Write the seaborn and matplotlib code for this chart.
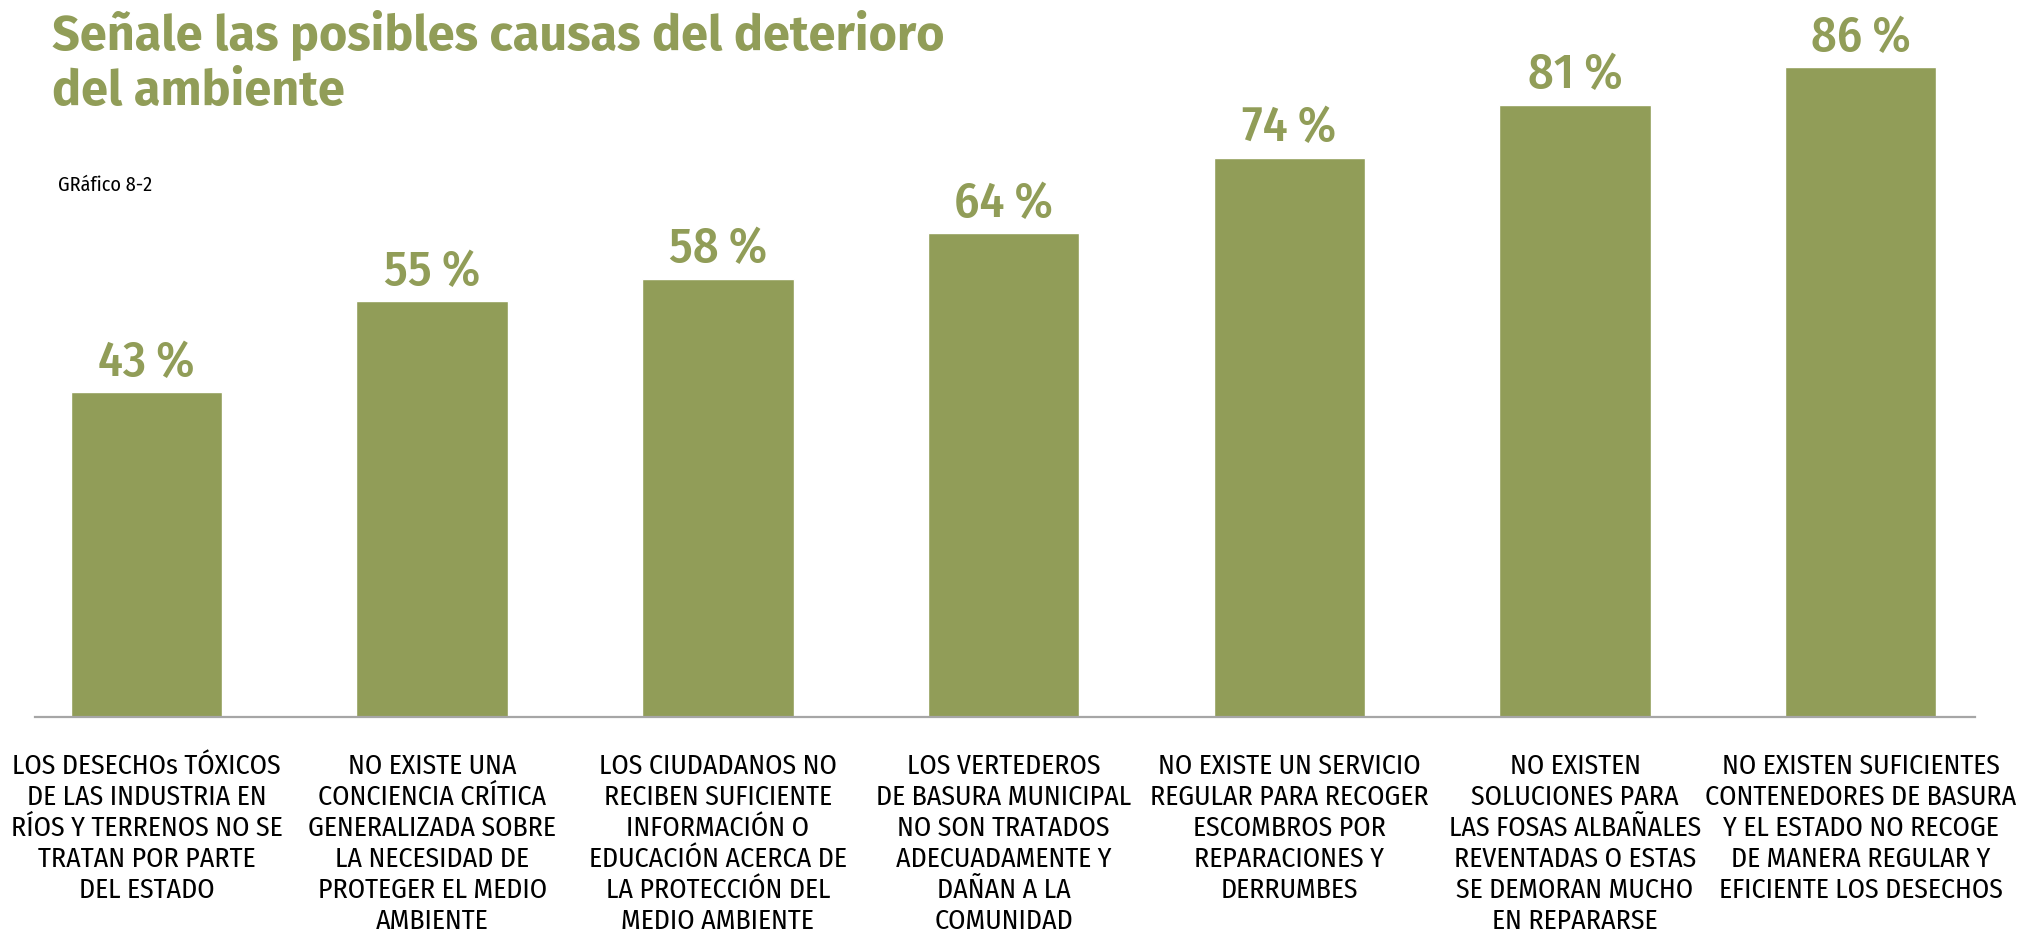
import matplotlib
matplotlib.use("Agg")
import matplotlib.pyplot as plt
import seaborn as sns
import pandas as pd
from matplotlib import font_manager

# data
causes = [
    "LOS DESECHOs TÓXICOS\nDE LAS INDUSTRIA EN\nRÍOS Y TERRENOS NO SE\nTRATAN POR PARTE\nDEL ESTADO",
    "NO EXISTE UNA\nCONCIENCIA CRÍTICA\nGENERALIZADA SOBRE\nLA NECESIDAD DE\nPROTEGER EL MEDIO\nAMBIENTE",
    "LOS CIUDADANOS NO\nRECIBEN SUFICIENTE\nINFORMACIÓN O\nEDUCACIÓN ACERCA DE\nLA PROTECCIÓN DEL\nMEDIO AMBIENTE",
    "LOS VERTEDEROS\nDE BASURA MUNICIPAL\nNO SON TRATADOS\nADECUADAMENTE Y\nDAÑAN A LA\nCOMUNIDAD",
    "NO EXISTE UN SERVICIO\nREGULAR PARA RECOGER\nESCOMBROS POR\nREPARACIONES Y\nDERRUMBES",
    "NO EXISTEN\nSOLUCIONES PARA\nLAS FOSAS ALBAÑALES\nREVENTADAS O ESTAS\nSE DEMORAN MUCHO\nEN REPARARSE",
    "NO EXISTEN SUFICIENTES\nCONTENEDORES DE BASURA\nY EL ESTADO NO RECOGE\nDE MANERA REGULAR Y\nEFICIENTE LOS DESECHOS",
]
percent = [43, 55, 58, 64, 74, 81, 86]

title = "Señale las posibles causas del deterioro\ndel ambiente"
subtitle = "GRáfico 8-2"

green = "#919d58"

sns.set_style("white")

# pick a condensed face close to the Fira Sans look of the original
names = {f.name for f in font_manager.fontManager.ttflist}
def pick(*cands):
    for c in cands:
        if c in names:
            return c
    return "DejaVu Sans"

cond = pick("Fira Sans Condensed", "Barlow Condensed", "Archivo Narrow", "Asap Condensed")
head = pick("Fira Sans", "Barlow", "Lato")
plt.rcParams["font.family"] = [cond, "DejaVu Sans"]

df = pd.DataFrame({"causa": causes, "pct": percent})

fig = plt.figure(figsize=(20.34, 9.38), dpi=100)
ax = fig.add_axes([35 / 2034, 1 - 717 / 938, 1940 / 2034, 680 / 938])

sns.barplot(data=df, x="causa", y="pct", color=green, saturation=1, width=0.53, ax=ax)

ax.set_ylim(0, 90)
ax.set_xlim(-0.39, 6.40)
ax.set_xlabel("")
ax.set_ylabel("")
ax.set_yticks([])
for s in ["top", "right", "left"]:
    ax.spines[s].set_visible(False)
ax.spines["bottom"].set_color("#a6a6a6")
ax.spines["bottom"].set_linewidth(1.6)
ax.tick_params(axis="x", length=0, pad=26)
for lbl in ax.get_xticklabels():
    lbl.set_fontsize(20)
    lbl.set_linespacing(1.2)
    lbl.set_color("black")

ax.bar_label(ax.containers[0], labels=[f"{v}\u2009%" for v in percent],
             padding=4, color=green, fontsize=36, fontweight="medium",
             family=[cond, "DejaVu Sans"])

fig.text(52 / 2034, 1 - 10 / 938, title, ha="left", va="top", color=green,
         fontsize=35, fontweight="bold", linespacing=1.2,
         family=[head, "DejaVu Sans"])
fig.text(58 / 2034, 1 - 185 / 938, subtitle, ha="left", va="center",
         color="black", fontsize=14.5)

fig.savefig("out.png", dpi=100)
